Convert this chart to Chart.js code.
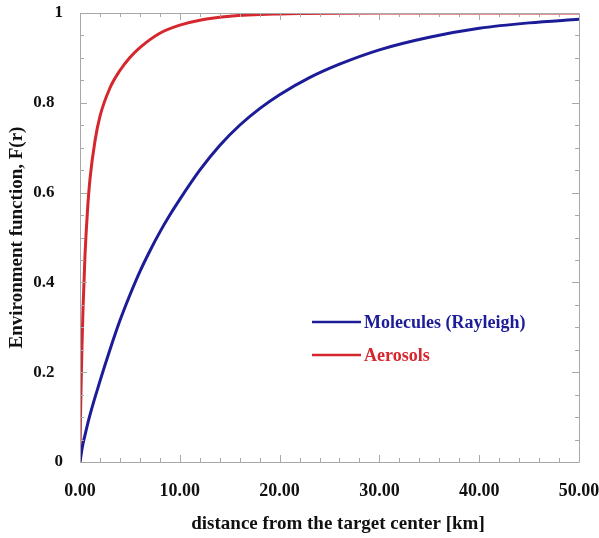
<!DOCTYPE html>
<html>
<head>
<meta charset="utf-8">
<script src="https://cdn.jsdelivr.net/npm/chart.js@4/dist/chart.umd.min.js"></script>
<style>
html,body{margin:0;padding:0;background:#fff;}
#wrap{width:599px;height:538px;position:relative;}
</style>
</head>
<body>
<div id="wrap"><canvas id="c" width="599" height="538"></canvas></div>
<script>
// Data
const distanceMolecules = [0,0.25,0.5,1,2,3,4,5,6,7,8,9,10,12,14,16,18,20,23,26,30,35,40,45,50];
const molecules = [0,0.035,0.06,0.105,0.18,0.25,0.315,0.372,0.424,0.47,0.512,0.55,0.585,0.65,0.705,0.75,0.787,0.818,0.856,0.886,0.918,0.946,0.966,0.978,0.986];
const distanceAerosols = [0,0.05,0.1,0.2,0.3,0.5,0.75,1,1.5,2,3,4,5,6,8,10,12,15,20,30,40,50];
const aerosols = [0,0.1,0.16,0.26,0.34,0.46,0.56,0.63,0.715,0.77,0.833,0.872,0.901,0.923,0.955,0.973,0.984,0.993,0.998,1,1,1];
const seriesLabels = ['Molecules (Rayleigh)','Aerosols'];
const xTickValues = [0,10,20,30,40,50];
const yTickValues = [0,0.2,0.4,0.6,0.8,1];
const xTitle = 'distance from the target center [km]';
const yTitle = 'Environment function, F(r)';

const BLUE = '#1c1c98';
const RED = '#d6262e';
const AXIS = '#a8a8a8';
const FONT = '"Liberation Serif","Times New Roman",serif';

const framePlugin = {
  id: 'frame',
  afterDatasetsDraw(chart) {
    const {ctx, chartArea: a, scales: {x, y}} = chart;
    ctx.save();
    ctx.strokeStyle = AXIS;
    ctx.lineWidth = 1;
    ctx.beginPath();
    ctx.rect(Math.round(a.left)+0.5, Math.round(a.top)+0.5, Math.round(a.right-a.left), Math.round(a.bottom-a.top));
    ctx.stroke();
    ctx.beginPath();
    for (let v = 0; v <= 50.001; v += 2) {
      const px = Math.round(x.getPixelForValue(v)) + 0.5;
      const len = (Math.abs(v % 10) < 1e-6) ? 7 : 4;
      ctx.moveTo(px, a.bottom); ctx.lineTo(px, a.bottom - len);
      ctx.moveTo(px, a.top); ctx.lineTo(px, a.top + len);
    }
    for (let i = 0; i <= 20; i++) {
      const v = i * 0.05;
      const py = Math.round(y.getPixelForValue(v)) + 0.5;
      const len = (i % 4 === 0) ? 7 : 4;
      ctx.moveTo(a.left, py); ctx.lineTo(a.left + len, py);
      ctx.moveTo(a.right, py); ctx.lineTo(a.right - len, py);
    }
    ctx.stroke();
    ctx.restore();
  },
  afterDraw(chart) {
    const {ctx} = chart;
    ctx.save();
    // x-axis title
    ctx.font = 'bold 19px ' + FONT;
    ctx.fillStyle = '#111';
    ctx.textAlign = 'center';
    ctx.textBaseline = 'middle';
    ctx.fillText(xTitle, 338, 524);
    // legend
    ctx.textAlign = 'left';
    ctx.font = 'bold 18px ' + FONT;
    chart.data.datasets.forEach((ds, i) => {
      const ly = 322 + i * 33;
      const lx0 = 312, lx1 = 361;
      ctx.strokeStyle = ds.borderColor;
      ctx.lineWidth = 2.5;
      ctx.beginPath(); ctx.moveTo(lx0, ly); ctx.lineTo(lx1, ly); ctx.stroke();
      ctx.fillStyle = ds.borderColor;
      ctx.fillText(ds.label, 364, ly + 1);
    });
    ctx.restore();
  }
};

new Chart(document.getElementById('c'), {
  type: 'scatter',
  data: {
    datasets: [
      {
        label: seriesLabels[0],
        data: distanceMolecules.map((d, i) => ({x: d, y: molecules[i]})),
        showLine: true, borderColor: BLUE, backgroundColor: BLUE,
        borderWidth: 3, pointRadius: 0, cubicInterpolationMode: 'monotone'
      },
      {
        label: seriesLabels[1],
        data: distanceAerosols.map((d, i) => ({x: d, y: aerosols[i]})),
        showLine: true, borderColor: RED, backgroundColor: RED,
        borderWidth: 3, pointRadius: 0, cubicInterpolationMode: 'monotone'
      }
    ]
  },
  options: {
    responsive: false,
    animation: false,
    devicePixelRatio: 1,
    layout: {padding: {top: 13, right: 20, bottom: 0, left: 0}},
    plugins: {legend: {display: false}, tooltip: {enabled: false}},
    scales: {
      x: {
        type: 'linear', min: 0, max: 50,
        afterFit(s) { s.height = 76; s.paddingLeft = 0; s.paddingRight = 0; },
        afterBuildTicks(s) { s.ticks = xTickValues.map(v => ({value: v})); },
        grid: {display: false, drawTicks: false},
        border: {display: false},
        ticks: {
          color: '#111', padding: 19, maxRotation: 0,
          font: {family: FONT, size: 18, weight: 'bold'},
          callback: v => Number(v).toFixed(2)
        },
        title: {display: false}
      },
      y: {
        type: 'linear', min: 0, max: 1,
        afterFit(s) { s.width = 80; s.paddingTop = 0; s.paddingBottom = 0; },
        afterBuildTicks(s) { s.ticks = yTickValues.map(v => ({value: v})); },
        grid: {display: false, drawTicks: false},
        border: {display: false},
        ticks: {
          color: '#111', padding: 17,
          font: {family: FONT, size: 17, weight: 'bold'},
          callback: v => (Math.abs(v) < 1e-9 ? '0' : Math.abs(v - 1) < 1e-9 ? '1' : Number(v).toFixed(1) + '\u2007')
        },
        title: {
          display: true, text: yTitle, color: '#111',
          font: {family: FONT, size: 19, weight: 'bold'},
          padding: {top: 6, bottom: 0}
        }
      }
    }
  },
  plugins: [framePlugin]
});
</script>
</body>
</html>
